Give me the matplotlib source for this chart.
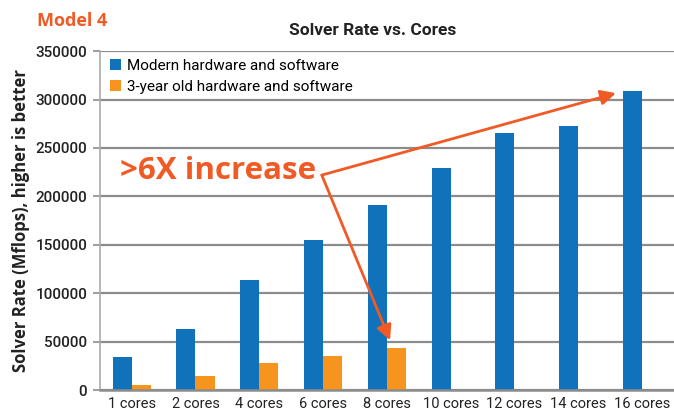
import numpy as np
import matplotlib.pyplot as plt

# ------ Data ------#
cores = ["1 cores", "2 cores", "4 cores", "6 cores", "8 cores",
         "10 cores", "12 cores", "14 cores", "16 cores"]
modern = [34500, 63500, 114000, 154500, 191500, 229500, 265500, 272500, 309000]
old = [5500, 15000, 28000, 35500, 43500]
y_ticks = [0, 50000, 100000, 150000, 200000, 250000, 300000, 350000]

BLUE = "#1172BC"
ORANGE = "#F7941D"
RED = "#F15A24"
GRID = "#8C8C8C"
NARROW = ["Roboto", "DejaVu Sans"]

fig = plt.figure(figsize=(6.74, 4.12), dpi=100)
ax = fig.add_axes([0.148, 0.053, 0.852, 0.823])

x = np.arange(len(cores))
w = 0.3
ax.bar(x - w / 2, modern, w, color=BLUE, label="Modern hardware and software", zorder=2)
ax.bar(x[:len(old)] + w / 2, old, w, color=ORANGE, label="3-year old hardware and software", zorder=2)

ax.set_xlim(-0.5, len(cores) - 0.5)
ax.set_ylim(0, 350000)
ax.set_yticks(y_ticks)
ax.set_yticklabels([str(v) for v in y_ticks], family=NARROW, fontsize=11,
                   fontweight="medium", color="#222222")
ax.set_xticks(x)
ax.set_xticklabels(cores, family=NARROW, fontsize=10.5, color="#222222")
ax.tick_params(axis="x", length=0, pad=5)
ax.tick_params(axis="y", length=5, color=GRID, width=1.2, pad=4)
ax.grid(axis="y", color=GRID, lw=1.6, zorder=0)
ax.set_axisbelow(True)
for s in ["top", "right"]:
    ax.spines[s].set_visible(False)
ax.spines["left"].set_color("#AAAAAA")
ax.spines["left"].set_linewidth(1.2)
ax.spines["bottom"].set_color(GRID)
ax.spines["bottom"].set_linewidth(1.8)

ax.set_ylabel("Solver Rate (Mflops), higher is better", family="Open Sans",
              fontweight="bold", fontsize=12, color="#222222", labelpad=4)

leg = ax.legend(loc="upper left", frameon=False, prop={"family": NARROW, "size": 11},
                handlelength=0.7, handleheight=0.7, handletextpad=0.4,
                borderaxespad=0.3, labelspacing=0.45, bbox_to_anchor=(0.0, 1.008))

fig.text(0.553, 0.925, "Solver Rate vs. Cores", ha="center", va="center",
         family=NARROW, fontsize=12.5, fontweight="bold", color="#222222")
fig.text(0.055, 0.948, "Model 4", ha="left", va="center", family="Open Sans",
         fontsize=13, fontweight="bold", color=RED)

# annotation arrows
src = (2.98, 222000)
ax.text(-0.18, 226000, ">6X increase", ha="left", va="center", family="Open Sans",
        fontsize=22.5, fontweight="bold", color=RED)
for tip in [(7.59, 306500), (4.05, 51500)]:
    ax.annotate("", xy=tip, xytext=src,
                arrowprops=dict(arrowstyle="-|>,head_length=0.9,head_width=0.45",
                                color=RED, lw=2, shrinkA=0, shrinkB=0))

fig.savefig("out.png", dpi=100)
